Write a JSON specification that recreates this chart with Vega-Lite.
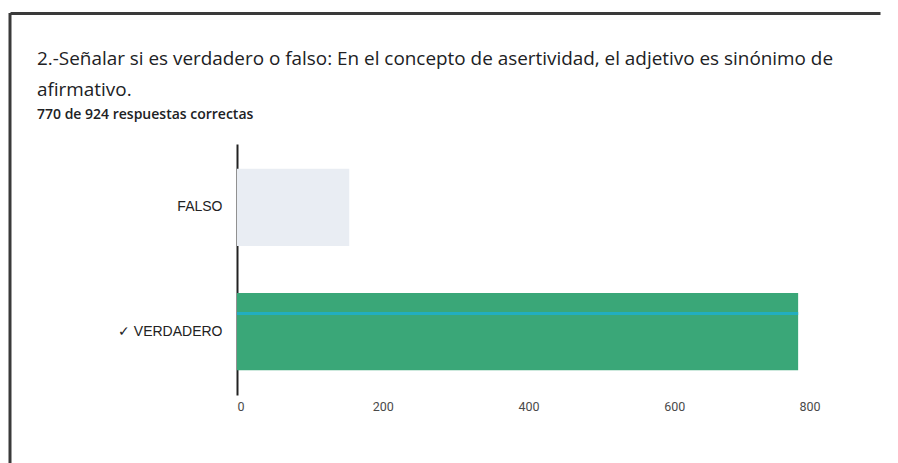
{
  "$schema": "https://vega.github.io/schema/vega-lite/v6.json",
  "width": 870,
  "height": 450,
  "autosize": "none",
  "padding": {"left": 10, "top": 13, "right": 18, "bottom": 0},
  "background": "white",
  "title": {
    "text": ["2.-Señalar si es verdadero o falso: En el concepto de asertividad, el adjetivo es sinónimo de", "afirmativo."],
    "subtitle": "770 de 924 respuestas correctas",
    "anchor": "start",
    "frame": "group",
    "orient": "top",
    "offset": -110,
    "dx": 27,
    "font": "Open Sans",
    "fontSize": 18.9,
    "fontWeight": "normal",
    "color": "#202124",
    "lineHeight": 31,
    "subtitleFont": "Open Sans",
    "subtitleFontSize": 14,
    "subtitleFontWeight": 600,
    "subtitleColor": "#202124",
    "subtitlePadding": 8
  },
  "data": {
    "values": [
      {"respuesta": "FALSO", "n": 154},
      {"respuesta": "✓ VERDADERO", "n": 770}
    ]
  },
  "layer": [
    {
      "layer": [
        {
          "mark": {"type": "bar"},
          "encoding": {
            "y": {
              "field": "respuesta",
              "type": "nominal",
              "sort": null,
              "scale": {"domain": ["FALSO", "✓ VERDADERO"], "range": [131, 382], "paddingInner": 0.379, "paddingOuter": 0.2},
              "axis": {
                "orient": "left",
                "offset": -227,
                "domainColor": "#222222",
                "domainWidth": 2,
                "ticks": false,
                "labelPadding": 15,
                "labelFontSize": 14,
                "labelColor": "#222222",
                "labelFont": "Liberation Sans",
                "title": null
              }
            },
            "x": {
              "field": "n",
              "type": "quantitative",
              "scale": {"domain": [0, 800], "range": [227, 810], "nice": false},
              "axis": {
                "orient": "bottom",
                "offset": -73,
                "values": [0, 200, 400, 600, 800],
                "domain": false,
                "ticks": false,
                "grid": false,
                "labelPadding": 10,
                "labelFontSize": 12.5,
                "labelColor": "#4a4a4a",
                "labelFont": "Roboto",
                "title": null
              }
            },
            "color": {
              "field": "respuesta",
              "type": "nominal",
              "scale": {"domain": ["FALSO", "✓ VERDADERO"], "range": ["#e9edf3", "#3aa778"]},
              "legend": null
            }
          }
        },
        {
          "transform": [{"filter": "datum.n > 500"}],
          "mark": {"type": "rule", "color": "#22aebf", "strokeWidth": 3, "yOffset": -18},
          "encoding": {
            "y": {"field": "respuesta", "type": "nominal"},
            "x": {"field": "n", "type": "quantitative"},
            "x2": {"datum": 0}
          }
        }
      ]
    },
    {
      "transform": [{"filter": "datum.n > 500"}],
      "mark": {"type": "rule", "color": "#3a3a3a", "strokeWidth": 3},
      "encoding": {
        "x": {
          "datum": 0,
          "type": "quantitative",
          "scale": {"domain": [0, 1], "nice": false},
          "axis": {
            "orient": "top",
            "domain": true,
            "domainColor": "#3a3a3a",
            "domainWidth": 3,
            "ticks": false,
            "labels": false,
            "grid": false,
            "title": null
          }
        }
      }
    }
  ],
  "resolve": {"scale": {"x": "independent"}, "axis": {"x": "independent"}},
  "config": {"view": {"stroke": null}}
}
